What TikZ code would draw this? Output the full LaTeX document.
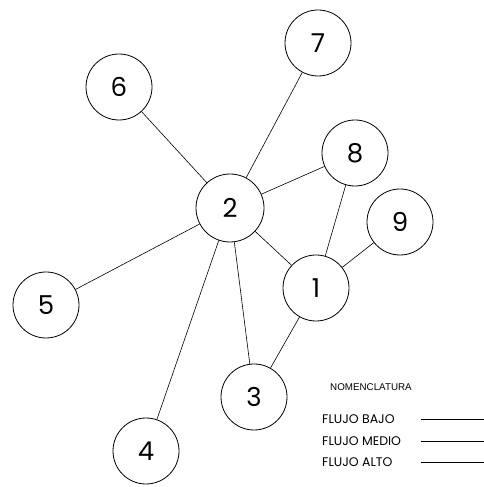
\documentclass[tikz,border=0pt]{standalone}
\usepackage{fontspec}
\setmainfont{Poppins}
\newfontfamily\arialf{Liberation Sans}
\begin{document}
\begin{tikzpicture}[x=1pt,y=1pt,
  nd/.style={circle,draw,line width=0.8pt,minimum size=66pt,inner sep=0pt,font=\fontsize{26}{28}\selectfont},
  ed/.style={line width=0.6pt},
  lg/.style={anchor=west,font=\fontsize{12.5}{13}\selectfont,inner sep=0pt},
  lgline/.style={line width=0.7pt}]
\useasboundingbox (0,0) rectangle (484,487);
\node[nd,minimum size=68pt] (n2) at (230,279) {2};
\node[nd] (n7) at (318,444) {7};
\node[nd] (n6) at (119,400) {6};
\node[nd] (n8) at (355,334) {8};
\node[nd] (n9) at (400,265) {9};
\node[nd] (n1) at (316,199) {1};
\node[nd] (n5) at (46,182) {5};
\node[nd] (n3) at (254,90) {3};
\node[nd] (n4) at (146,36) {4};
\draw[ed] (n2) -- (n6);
\draw[ed] (n2) -- (n7);
\draw[ed] (n2) -- (n8);
\draw[ed] (n2) -- (n5);
\draw[ed] (n2) -- (n4);
\draw[ed] (n2) -- (n3);
\draw[ed] (n2) -- (n1);
\draw[ed] (n1) -- (n8);
\draw[ed] (n1) -- (n9);
\draw[ed] (n1) -- (n3);
\node[anchor=west,inner sep=0pt,font=\arialf\fontsize{9.8}{10}\selectfont] (nom) at (330,100) {NOMENCLATURA};
\node[lg] (fb) at (322,68) {FLUJO BAJO};
\node[lg] (fm) at (322,46) {FLUJO MEDIO};
\node[lg] (fa) at (322,25) {FLUJO ALTO};
\coordinate (b1) at (421,68); \coordinate (b2) at (484,68);
\coordinate (m1) at (421,46); \coordinate (m2) at (484,46);
\coordinate (a1) at (421,25); \coordinate (a2) at (484,25);
\draw[lgline] (b1) -- (b2);
\draw[lgline] (m1) -- (m2);
\draw[lgline] (a1) -- (a2);
\end{tikzpicture}
\end{document}
